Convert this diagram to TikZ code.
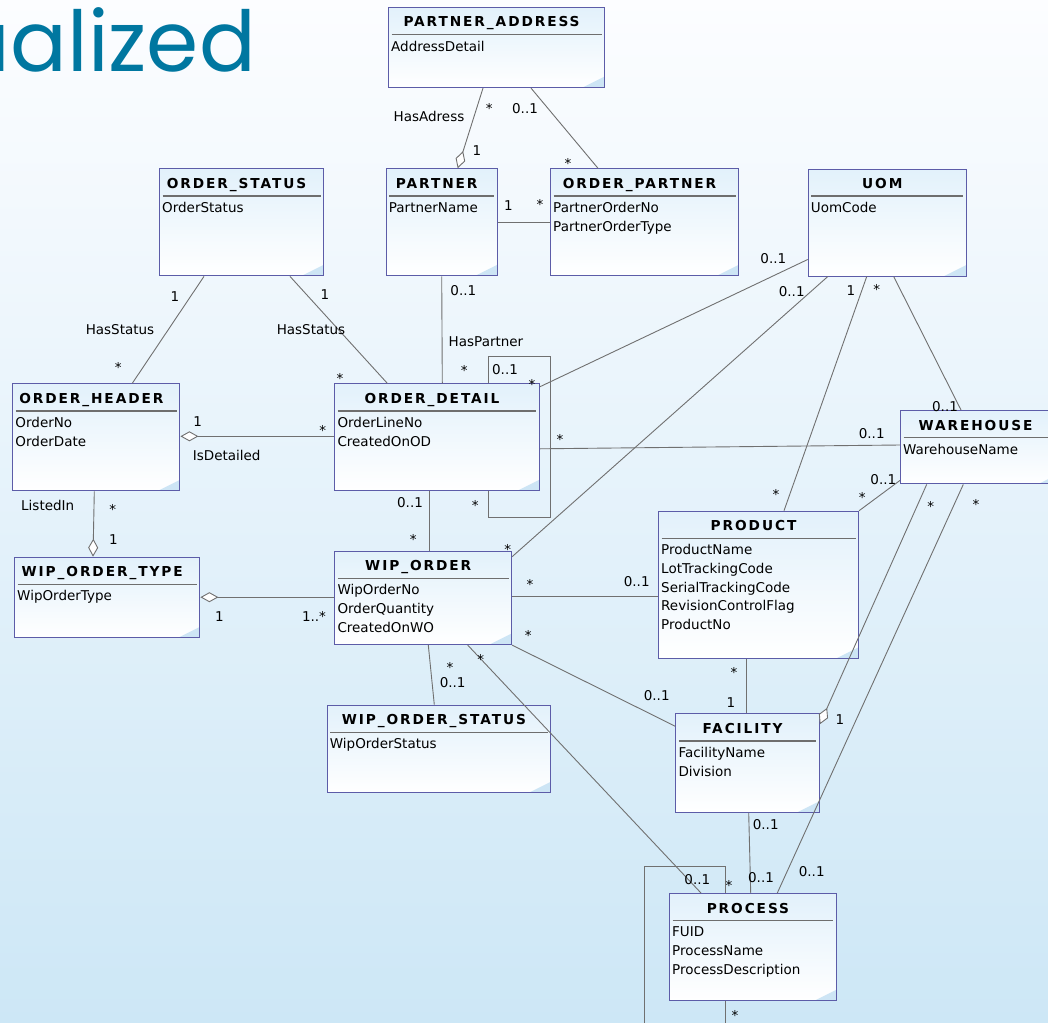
\documentclass[tikz,border=0pt]{standalone}
\usepackage{fontspec}
\setmainfont{DejaVu Sans}
\newfontfamily\logofont{Poppins}
\newfontfamily\headfont{DejaVu Sans}[LetterSpace=14]
\usetikzlibrary{arrows.meta,positioning}

\definecolor{bgtop}{RGB}{252,253,255}
\definecolor{bgbot}{RGB}{205,231,246}
\definecolor{boxline}{RGB}{92,92,168}
\definecolor{boxtop}{RGB}{226,241,251}
\definecolor{boxcorner}{RGB}{205,229,245}
\definecolor{linkgray}{RGB}{112,112,112}
\definecolor{sepgray}{RGB}{110,110,110}
\definecolor{logoteal}{RGB}{0,119,160}

\tikzset{
  entity/.style={draw=boxline, line width=1.1pt, anchor=north west, inner sep=0pt,
    top color=boxtop, bottom color=white,
    path picture={
      \fill[boxcorner] (path picture bounding box.south east) -- ++(-22pt,0pt) -- ++(22pt,11pt) -- cycle;
      \draw[sepgray, line width=1.4pt] ([xshift=3pt,yshift=-27pt]path picture bounding box.north west)
        -- ([xshift=-3pt,yshift=-27pt]path picture bounding box.north east);
    }},
  etitle/.style={anchor=base, inner sep=0pt, font=\headfont\bfseries\fontsize{13.7pt}{16pt}\selectfont},
  eattr/.style={anchor=north west, inner sep=0pt, align=left, font=\fontsize{13.5pt}{18.7pt}\selectfont},
  link/.style={draw=linkgray, line width=0.9pt},
  agg/.tip={Diamond[fill=white, length=18pt, width=10pt]},
  mult/.style={inner sep=0pt, text height=9.8pt, text depth=0pt, font=\fontsize{13.5pt}{16pt}\selectfont}
}

\begin{document}
\begin{tikzpicture}[x=1pt,y=-1pt]
  \useasboundingbox (0,0) rectangle (1048,1022);
  \shade[top color=bgtop, bottom color=bgbot] (0,0) rectangle (1048,1022);
  \clip (0,0) rectangle (1048,1022);

  \node[anchor=base east, text=logoteal, inner sep=0pt, font=\logofont\fontsize{84pt}{90pt}\selectfont] (logo) at (256,72) {ualized};

  % entities
  \node[entity, minimum width=216pt, minimum height=80pt] (pa) at (388,7) {};
  \node[etitle] (pa-t) at ([xshift=-5pt,yshift=-20pt]pa.north) {PARTNER\_ADDRESS};
  \node[eattr] (pa-a) at ([xshift=3pt,yshift=-33.7pt]pa.north west) {AddressDetail};

  \node[entity, minimum width=164pt, minimum height=107pt] (os) at (159,168.3) {};
  \node[etitle] (os-t) at ([xshift=-5pt,yshift=-20pt]os.north) {ORDER\_STATUS};
  \node[eattr] (os-a) at ([xshift=3pt,yshift=-33.7pt]os.north west) {OrderStatus};

  \node[entity, minimum width=111pt, minimum height=107pt] (pt) at (385.7,168.3) {};
  \node[etitle] (pt-t) at ([xshift=-5pt,yshift=-20pt]pt.north) {PARTNER};
  \node[eattr] (pt-a) at ([xshift=3pt,yshift=-33.7pt]pt.north west) {PartnerName};

  \node[entity, minimum width=188pt, minimum height=107pt] (op) at (550,168.3) {};
  \node[etitle] (op-t) at ([xshift=-5pt,yshift=-20pt]op.north) {ORDER\_PARTNER};
  \node[eattr] (op-a) at ([xshift=3pt,yshift=-33.7pt]op.north west) {PartnerOrderNo\\PartnerOrderType};

  \node[entity, minimum width=158pt, minimum height=107pt] (uom) at (807.7,168.5) {};
  \node[etitle] (uom-t) at ([xshift=-5pt,yshift=-20pt]uom.north) {UOM};
  \node[eattr] (uom-a) at ([xshift=3pt,yshift=-33.7pt]uom.north west) {UomCode};

  \node[entity, minimum width=167pt, minimum height=107pt] (oh) at (12.3,383.3) {};
  \node[etitle] (oh-t) at ([xshift=-5pt,yshift=-20pt]oh.north) {ORDER\_HEADER};
  \node[eattr] (oh-a) at ([xshift=3pt,yshift=-33.7pt]oh.north west) {OrderNo\\OrderDate};

  \node[entity, minimum width=204.4pt, minimum height=107pt] (od) at (334.3,383.3) {};
  \node[etitle] (od-t) at ([xshift=-5pt,yshift=-20pt]od.north) {ORDER\_DETAIL};
  \node[eattr] (od-a) at ([xshift=3pt,yshift=-33.7pt]od.north west) {OrderLineNo\\CreatedOnOD};

  \node[entity, minimum width=160pt, minimum height=73.3pt] (wh) at (900,410) {};
  \node[etitle] (wh-t) at ([xshift=-5pt,yshift=-20pt]wh.north) {WAREHOUSE};
  \node[eattr] (wh-a) at ([xshift=3pt,yshift=-33.7pt]wh.north west) {WarehouseName};

  \node[entity, minimum width=200pt, minimum height=147pt] (pr) at (658,510.7) {};
  \node[etitle] (pr-t) at ([xshift=-5pt,yshift=-20pt]pr.north) {PRODUCT};
  \node[eattr] (pr-a) at ([xshift=3pt,yshift=-33.7pt]pr.north west) {ProductName\\LotTrackingCode\\SerialTrackingCode\\RevisionControlFlag\\ProductNo};

  \node[entity, minimum width=185.3pt, minimum height=80.6pt] (wot) at (14,556.7) {};
  \node[etitle] (wot-t) at ([xshift=-5pt,yshift=-20pt]wot.north) {WIP\_ORDER\_TYPE};
  \node[eattr] (wot-a) at ([xshift=3pt,yshift=-33.7pt]wot.north west) {WipOrderType};

  \node[entity, minimum width=176.7pt, minimum height=93.3pt] (wo) at (334.3,550.7) {};
  \node[etitle] (wo-t) at ([xshift=-5pt,yshift=-20pt]wo.north) {WIP\_ORDER};
  \node[eattr] (wo-a) at ([xshift=3pt,yshift=-33.7pt]wo.north west) {WipOrderNo\\OrderQuantity\\CreatedOnWO};

  \node[entity, minimum width=223.3pt, minimum height=87.6pt] (wos) at (326.7,704.7) {};
  \node[etitle] (wos-t) at ([xshift=-5pt,yshift=-20pt]wos.north) {WIP\_ORDER\_STATUS};
  \node[eattr] (wos-a) at ([xshift=3pt,yshift=-33.7pt]wos.north west) {WipOrderStatus};

  \node[entity, minimum width=143.4pt, minimum height=98.4pt] (fa) at (675.3,713.3) {};
  \node[etitle] (fa-t) at ([xshift=-5pt,yshift=-20pt]fa.north) {FACILITY};
  \node[eattr] (fa-a) at ([xshift=3pt,yshift=-33.7pt]fa.north west) {FacilityName\\Division};

  \node[entity, minimum width=166.7pt, minimum height=107.3pt] (pc) at (669,893) {};
  \node[etitle] (pc-t) at ([xshift=-5pt,yshift=-20pt]pc.north) {PROCESS};
  \node[eattr] (pc-a) at ([xshift=3pt,yshift=-33.7pt]pc.north west) {FUID\\ProcessName\\ProcessDescription};

  % associations
  \draw[link, -agg] ([xshift=95pt]pa.south west) -- ([xshift=72pt]pt.north west);
  \node[mult] (l1a) at (429,117) {HasAdress};
  \node[mult] (l1b) at (489.3,109) {*};
  \node[mult] (l1c) at (477,150.7) {1};

  \draw[link] ([xshift=143pt]pa.south west) -- ([xshift=48pt]op.north west);
  \node[mult] (l2a) at (525,108.3) {0..1};
  \node[mult] (l2b) at (568,163.7) {*};

  \draw[link] ([yshift=-54pt]pt.north east) -- ([yshift=-54pt]op.north west);
  \node[mult] (l3a) at (508.3,205.7) {1};
  \node[mult] (l3b) at (540,204.7) {*};

  \draw[link] ([xshift=45pt]os.south west) -- ([xshift=120pt]oh.north west);
  \node[mult] (l4a) at (175,296.7) {1};
  \node[mult] (l4b) at (120,329.3) {HasStatus};
  \node[mult] (l4c) at (118.3,368) {*};

  \draw[link] ([xshift=131pt]os.south west) -- ([xshift=53pt]od.north west);
  \node[mult] (l5a) at (325,295) {1};
  \node[mult] (l5b) at (311,330) {HasStatus};
  \node[mult] (l5c) at (340,379) {*};

  \draw[link] ([xshift=56pt]pt.south west) -- ([xshift=108pt]od.north west);
  \node[mult] (l6a) at (463.3,291) {0..1};
  \node[mult] (l6b) at (486,341.7) {HasPartner};
  \node[mult] (l6c) at (464.3,370.3) {*};

  \draw[link] ([xshift=154pt]od.north west) |- ([xshift=11pt,yshift=27pt]od.north east)
    -- ([xshift=11pt,yshift=-26pt]od.south east) -| ([xshift=154pt]od.south west);
  \node[mult] (l7a) at (505,369.3) {0..1};
  \node[mult] (l7b) at (475.3,505.7) {*};

  \draw[link] ([yshift=-91pt]uom.north west) -- ([yshift=-3.5pt]od.north east);
  \node[mult] (l8a) at (773.3,259) {0..1};
  \node[mult] (l8b) at (532,384.7) {*};

  \draw[link, agg-] ([yshift=-53pt]oh.north east) -- ([yshift=-53pt]od.north west);
  \node[mult] (l9a) at (197.7,421.7) {1};
  \node[mult] (l9b) at (226.7,456) {IsDetailed};
  \node[mult] (l9c) at (322.7,430.7) {*};

  \draw[link, -agg] ([xshift=82pt]oh.south west) -- ([xshift=79pt]wot.north west);
  \node[mult] (l10a) at (47.7,505.7) {ListedIn};
  \node[mult] (l10b) at (112.7,509.7) {*};
  \node[mult] (l10c) at (113.3,539.3) {1};

  \draw[link, agg-] ([yshift=-40.5pt]wot.north east) -- ([yshift=-46.5pt]wo.north west);
  \node[mult] (l11a) at (219.3,617) {1};
  \node[mult] (l11b) at (314,617) {1..*};

  \draw[link] ([xshift=95pt]od.south west) -- ([xshift=95pt]wo.north west);
  \node[mult] (l12a) at (410,502.7) {0..1};
  \node[mult] (l12b) at (413.3,539.7) {*};

  \draw[link] ([yshift=-65.5pt]od.north east) -- ([yshift=-35pt]wh.north west);
  \node[mult] (l13a) at (560,439.7) {*};
  \node[mult] (l13b) at (871.7,433.3) {0..1};

  \draw[link] ([xshift=20pt]uom.south west) -- ([yshift=-6pt]wo.north east);
  \node[mult] (l14a) at (791.7,291.7) {0..1};
  \node[mult] (l14b) at (507.7,549.7) {*};

  \draw[link] ([xshift=59pt]uom.south west) -- ([xshift=126pt]pr.north west);
  \node[mult] (l15a) at (851,290.7) {1};
  \node[mult] (l15b) at (776,494.7) {*};

  \draw[link] ([xshift=86pt]uom.south west) -- ([xshift=61pt]wh.north west);
  \node[mult] (l16a) at (876.7,289.7) {*};
  \node[mult] (l16b) at (945,406.7) {0..1};

  \draw[link] ([yshift=-46pt]wo.north east) -- ([yshift=-86pt]pr.north west);
  \node[mult] (l17a) at (530,584.7) {*};
  \node[mult] (l17b) at (636.7,581.7) {0..1};

  \draw[link] ([yshift=4pt]wh.south west) -- (pr.north east);
  \node[mult] (l18a) at (883.3,479.3) {0..1};
  \node[mult] (l18b) at (862.3,497.3) {*};

  \draw[link] ([xshift=88.7pt]pr.south west) -- ([xshift=71.4pt]fa.north west);
  \node[mult] (l19a) at (734,673) {*};
  \node[mult] (l19b) at (731,702.7) {1};

  \draw[link] (wo.south east) -- ([yshift=-13pt]fa.north west);
  \node[mult] (l20a) at (528.3,635.3) {*};
  \node[mult] (l20b) at (656.7,696) {0..1};

  \draw[link, -agg] ([xshift=26.7pt]wh.south west) -- ([yshift=-11pt]fa.north east);
  \node[mult] (l21a) at (930.7,506.3) {*};
  \node[mult] (l21b) at (840,719.3) {1};

  \draw[link] ([xshift=63.3pt]wh.south west) -- ([xshift=108.3pt]pc.north west);
  \node[mult] (l22a) at (976,504.7) {*};
  \node[mult] (l22b) at (811.7,871.7) {0..1};

  \draw[link] ([xshift=73.4pt]fa.south west) -- ([xshift=81.7pt]pc.north west);
  \node[mult] (l23a) at (765.7,824.3) {0..1};
  \node[mult] (l23b) at (761,877.7) {0..1};

  \draw[link] ([xshift=94pt]wo.south west) -- ([xshift=107.6pt]wos.north west);
  \node[mult] (l24a) at (450,667.3) {*};
  \node[mult] (l24b) at (452.7,682.7) {0..1};

  \draw[link] ([xshift=133.4pt]wo.south west) -- ([xshift=32pt]pc.north west);
  \node[mult] (l25a) at (480.7,659.7) {*};
  \node[mult] (l25b) at (697.3,880) {0..1};

  \draw[link] ([xshift=56pt]pc.north west) |- ([xshift=-25pt,yshift=27pt]pc.north west)
    -- ([xshift=-25pt,yshift=-40pt]pc.south west) -| ([xshift=56pt]pc.south west);
  \node[mult] (l26a) at (729,885.3) {*};
  \node[mult] (l26b) at (735,1015.3) {*};
\end{tikzpicture}
\end{document}
